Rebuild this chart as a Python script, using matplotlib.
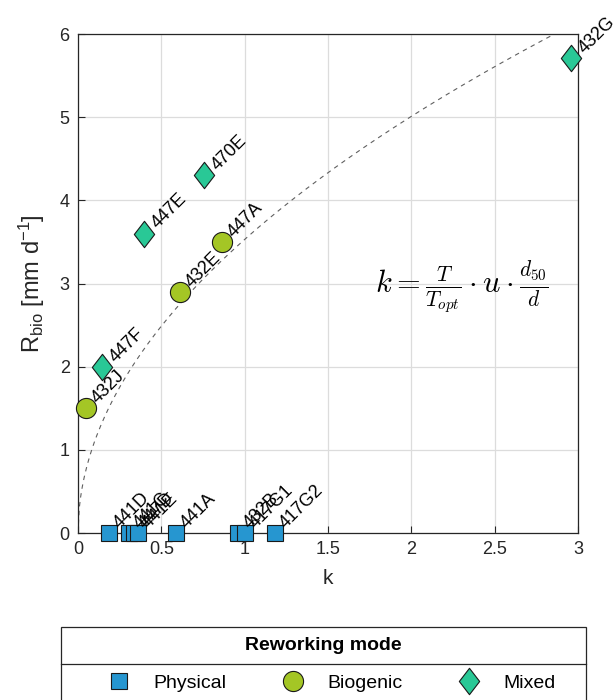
import numpy as np
import matplotlib
matplotlib.use("Agg")
import matplotlib.pyplot as plt
from matplotlib.lines import Line2D
from matplotlib.patches import Rectangle
from matplotlib.path import Path
from matplotlib.transforms import offset_copy

plt.rcParams['font.family'] = ['Liberation Sans', 'DejaVu Sans']
plt.rcParams['mathtext.fontset'] = 'cm'
plt.rcParams['mathtext.rm'] = 'Liberation Sans'
plt.rcParams['mathtext.it'] = 'Liberation Sans:italic'
plt.rcParams['mathtext.bf'] = 'Liberation Sans:bold'

# ---- data ----
phys_k = [0.186, 0.306, 0.335, 0.357, 0.585, 0.963, 1.0, 1.18]
phys_r = [0, 0, 0, 0, 0, 0, 0, 0]
phys_lab = ["441D", "441C", "447D", "441E", "441A", "432B", "417G1", "417G2"]

bio_k = [0.048, 0.61, 0.864]
bio_r = [1.5, 2.9, 3.5]
bio_lab = ["432J", "432E", "447A"]

mix_k = [0.144, 0.396, 0.756, 2.96]
mix_r = [2.0, 3.6, 4.3, 5.71]
mix_lab = ["447F", "447E", "470E", "432G"]

fit_a = 3.53
fit_b = 0.505

legend_labels = ["Physical", "Biogenic", "Mixed"]

c_phys = "#2696d0"
c_bio = "#a4c625"
c_mix = "#29c896"
c_ax = '#262626'

diamond = Path([(0, 1), (0.77, 0), (0, -1), (-0.77, 0), (0, 1)],
               [Path.MOVETO, Path.LINETO, Path.LINETO, Path.LINETO, Path.CLOSEPOLY])

W, H = 614, 700
fig = plt.figure(figsize=(W/100, H/100), dpi=100)
ax = fig.add_axes([78/W, 1-533/H, 500/W, 499/H])

kk = np.linspace(0, 3, 400)
ax.plot(kk, fit_a * kk**fit_b, ls=(0, (4, 4)), color="#606060", lw=0.8, zorder=2)

mk = dict(mec='#1a1a1a', mew=0.8)
ax.plot(phys_k, phys_r, ls='none', marker='s', ms=11.5, mfc=c_phys, zorder=3, clip_on=False, **mk)
ax.plot(bio_k, bio_r, ls='none', marker='o', ms=14.5, mfc=c_bio, zorder=3, clip_on=False, **mk)
ax.plot(mix_k, mix_r, ls='none', marker=diamond, ms=19, mfc=c_mix, zorder=3, clip_on=False, **mk)

def lab(xs, ys, names, dx):
    for x, y, n in zip(xs, ys, names):
        tr = offset_copy(ax.transData, fig=fig, x=dx, y=3.0, units='points')
        ax.text(x, y, n, transform=tr, rotation=45, rotation_mode='anchor',
                ha='left', va='baseline', fontsize=13, zorder=4, clip_on=False)

lab(phys_k, phys_r, phys_lab, 8.0)
lab(bio_k, bio_r, bio_lab, 8.5)
lab(mix_k, mix_r, mix_lab, 9.5)

ax.set_xlim(0, 3)
ax.set_ylim(0, 6)
ax.set_xticks([0, 0.5, 1, 1.5, 2, 2.5, 3])
ax.set_xticklabels(["0", "0.5", "1", "1.5", "2", "2.5", "3"])
ax.set_yticks([0, 1, 2, 3, 4, 5, 6])
ax.grid(True, color='#dcdcdc', lw=0.9)
ax.set_axisbelow(True)
ax.tick_params(direction='in', labelsize=13, length=5, color=c_ax, labelcolor=c_ax, pad=6)
for s in ax.spines.values():
    s.set_color(c_ax)
    s.set_linewidth(0.9)
ax.set_xlabel("k", fontsize=15, color=c_ax, labelpad=8)
yl = ax.set_ylabel(r"R$_{\mathrm{bio}}$ [mm d$^{-1}$]", fontsize=17, color=c_ax, labelpad=9)
yl.set_math_fontfamily('custom')

ax.text(2.3, 2.95, r"$k = \frac{T}{T_{opt}} \cdot u \cdot \frac{d_{50}}{d}$", fontsize=22,
        ha='center', va='center', zorder=5)

# ---- legend box ----
bx0, bx1, by0, bsep = 61, 586, 627, 664
fig.add_artist(Rectangle((bx0/W, -0.05), (bx1-bx0)/W, 1-by0/H+0.05, transform=fig.transFigure,
                         fill=False, edgecolor=c_ax, lw=0.9))
fig.add_artist(Line2D([bx0/W, bx1/W], [1-bsep/H, 1-bsep/H], transform=fig.transFigure,
                      color=c_ax, lw=0.9))
fig.text((bx0+bx1)/2/W, 1-646/H, "Reworking mode", ha='center', va='center',
         fontsize=14, fontweight='bold', color='black')

handles = [Line2D([], [], ls='none', marker='s', ms=11.5, mfc=c_phys, **mk),
           Line2D([], [], ls='none', marker='o', ms=14.5, mfc=c_bio, **mk),
           Line2D([], [], ls='none', marker=diamond, ms=19, mfc=c_mix, **mk)]
leg = fig.legend(handles, legend_labels, ncol=3, loc='center',
                 bbox_to_anchor=(330/W, 1-683/H), fontsize=14,
                 frameon=False, handlelength=1.5, handletextpad=1.0,
                 columnspacing=2.7, borderpad=0, borderaxespad=0)

fig.savefig("out.png", dpi=100)
